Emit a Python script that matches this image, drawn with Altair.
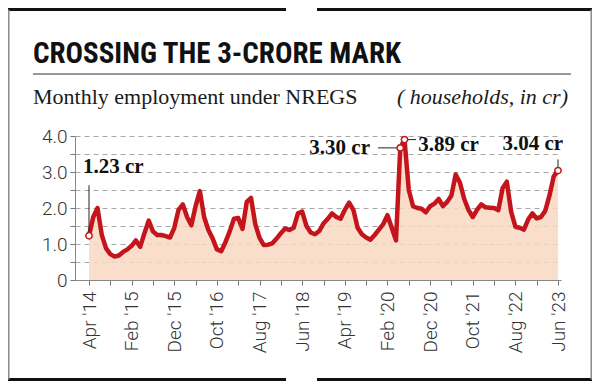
import json
import altair as alt
import pandas as pd

# ---------------- data ----------------
title_text = "CROSSING THE 3-CRORE MARK"
subtitle_left = "Monthly employment under NREGS"
subtitle_right = "( households, in cr)"

# monthly households (crore), Apr 2014 .. Jun 2023
values = [
    1.23, 1.75, 2.0, 1.25, 0.88, 0.72, 0.65, 0.68, 0.78, 0.85,
    0.95, 1.1, 0.92, 1.3, 1.65, 1.35, 1.25, 1.25, 1.22, 1.18,
    1.45, 1.95, 2.1, 1.75, 1.52, 2.05, 2.47, 1.75, 1.39, 1.15,
    0.85, 0.8, 1.05, 1.35, 1.7, 1.72, 1.42, 2.17, 2.28, 1.55,
    1.17, 0.97, 0.98, 1.02, 1.15, 1.3, 1.43, 1.39, 1.45, 1.85,
    1.9, 1.5, 1.32, 1.27, 1.36, 1.57, 1.7, 1.85, 1.75, 1.7,
    1.95, 2.15, 1.95, 1.45, 1.27, 1.18, 1.12, 1.25, 1.4, 1.55,
    1.8, 1.45, 1.1, 3.67, 3.9, 2.5, 2.05, 2.0, 1.98, 1.88,
    2.05, 2.12, 2.25, 2.05, 2.17, 2.35, 2.93, 2.7, 2.25, 1.95,
    1.75, 1.95, 2.1, 2.02, 2.01, 2.0, 1.94, 2.55, 2.73, 1.9,
    1.48, 1.45, 1.4, 1.68, 1.85, 1.71, 1.75, 1.92, 2.35, 2.88, 3.04,
]
tick_labels = ["Apr '14", "Feb '15", "Dec '15", "Oct '16", "Aug '17", "Jun '18",
               "Apr '19", "Feb '20", "Dec '20", "Oct '21", "Aug '22", "Jun '23"]
y_ticks = [0, 0.5, 1.0, 1.5, 2.0, 2.5, 3.0, 3.5, 4.0]

callout_idx = [0, 73, 74, 110]
callout_text = ["1.23 cr", "3.30 cr", "3.89 cr", "3.04 cr"]

# ---------------- tables ----------------
df = pd.DataFrame({"idx": list(range(len(values))), "value": values})
markers = pd.DataFrame({"idx": callout_idx,
                        "value": [values[i] for i in callout_idx]})
labels_df = pd.DataFrame({
    "idx": [-1.4, 65.9, 77.2, 111.2],
    "value": [2.97, 3.49, 3.58, 3.6],
    "text": callout_text,
    "align": ["left", "right", "left", "right"],
})
leaders = pd.DataFrame({
    "idx": [0, 67.8, 74.7, 110],
    "idx2": [0, 72.3, 76.7, 110],
    "value": [1.32, 3.67, 3.9, 3.13],
    "value2": [2.63, 3.67, 3.9, 3.35],
})
one = pd.DataFrame({"a": [0]})

RED = "#c4141c"
xscale = alt.Scale(domain=[-3.284, 110.70], nice=False, zero=False)
yscale = alt.Scale(domain=[0, 4], nice=False, zero=True)

x_label_expr = ("datum.value % 10 == 0 ? " + json.dumps(tick_labels)
                + "[datum.value / 10] : ''")
y_label_expr = ("datum.value % 1 == 0 ? (datum.value == 0 ? '0' : "
                "format(datum.value, '.1f')) : ''")

xaxis = alt.Axis(values=list(range(0, 111, 5)), labelExpr=x_label_expr,
                 labelAngle=270, labelFontSize=19, labelFont="Roboto",
                 labelFontWeight=300, labelColor="#333", labelPadding=6,
                 labelOverlap=False, labelFlush=False, tickSize=5,
                 tickColor="#777", domainColor="#888", grid=False, title=None)
yaxis = alt.Axis(values=y_ticks, labelExpr=y_label_expr, labelFontSize=19,
                 labelFont="Roboto", labelFontWeight=300, labelColor="#333",
                 labelPadding=3, tickSize=5, tickColor="#777",
                 domainColor="#888", grid=True, gridDash=[5, 4],
                 gridColor="#a8a8a8", labelOverlap=False, title=None)


def X(field="idx"):
    return alt.X(f"{field}:Q", scale=xscale, axis=xaxis)


def Y(field="value"):
    return alt.Y(f"{field}:Q", scale=yscale, axis=yaxis)


area = alt.Chart(df).mark_area(color="#f8d8c2", opacity=0.85).encode(
    x=X(), y=Y())
line = alt.Chart(df).mark_line(color=RED, strokeWidth=4.5,
                               strokeJoin="round").encode(x=X(), y=Y())
lead = alt.Chart(leaders).mark_rule(color="#222", strokeWidth=1).encode(
    x=X(), x2="idx2:Q", y=Y(), y2="value2:Q")
pts = alt.Chart(markers).mark_point(shape="circle", filled=True, fill="white",
                                    stroke=RED, strokeWidth=1.5, size=40,
                                    opacity=1).encode(x=X(), y=Y())
lbl_layers = []
for al in ["left", "right"]:
    lbl_layers.append(
        alt.Chart(labels_df[labels_df["align"] == al]).mark_text(
            align=al, baseline="alphabetic", font="Liberation Serif",
            fontSize=21, fontWeight="bold", color="#111").encode(
            x=X(), y=Y(), text="text:N")
    )

# ---------------- decoration / titles ----------------
title = alt.Chart(one).mark_text(
    text=title_text, align="left", baseline="alphabetic",
    font="Roboto Condensed, Liberation Sans Narrow, DejaVu Sans Condensed, sans-serif",
    fontSize=29, fontWeight="bold", color="#111",
).encode(x=alt.value(-42), y=alt.value(-73))
sub_l = alt.Chart(one).mark_text(
    text=subtitle_left, align="left", baseline="alphabetic",
    font="Liberation Serif", fontSize=22, color="#1a1a1a",
).encode(x=alt.value(-42), y=alt.value(-32))
sub_r = alt.Chart(one).mark_text(
    text=subtitle_right, align="right", baseline="alphabetic",
    font="Liberation Serif", fontSize=22, fontStyle="italic", color="#1a1a1a",
).encode(x=alt.value(493), y=alt.value(-32))
hr = alt.Chart(one).mark_rule(color="#333", strokeWidth=1).encode(
    x=alt.value(-42), x2=alt.value(496), y=alt.value(-62))
top_l = alt.Chart(one).mark_rule(color="#111", strokeWidth=3).encode(
    x=alt.value(-67), x2=alt.value(211), y=alt.value(-126.5))
top_r = alt.Chart(one).mark_rule(color="#111", strokeWidth=3).encode(
    x=alt.value(242), x2=alt.value(517), y=alt.value(-126.5))
bot_l = alt.Chart(one).mark_rule(color="#111", strokeWidth=3).encode(
    x=alt.value(-67), x2=alt.value(211), y=alt.value(243.5))
bot_r = alt.Chart(one).mark_rule(color="#111", strokeWidth=3).encode(
    x=alt.value(242), x2=alt.value(517), y=alt.value(243.5))
left_b = alt.Chart(one).mark_rule(color="#888", strokeWidth=1.5).encode(
    x=alt.value(-66.2), y=alt.value(-126.5), y2=alt.value(243.5))
right_b = alt.Chart(one).mark_rule(color="#888", strokeWidth=1.5).encode(
    x=alt.value(516.2), y=alt.value(-126.5), y2=alt.value(243.5))

chart = alt.layer(
    area, line, lead, pts, *lbl_layers,
    title, sub_l, sub_r, hr, top_l, top_r, bot_l, bot_r, left_b, right_b,
).properties(
    width=486, height=144,
    padding={"left": 67, "top": 128, "right": 31, "bottom": 101},
    autosize="none",
    background="white",
).configure_view(stroke=None)

chart.save("out.html", embed_options={"renderer": "svg", "actions": False})
